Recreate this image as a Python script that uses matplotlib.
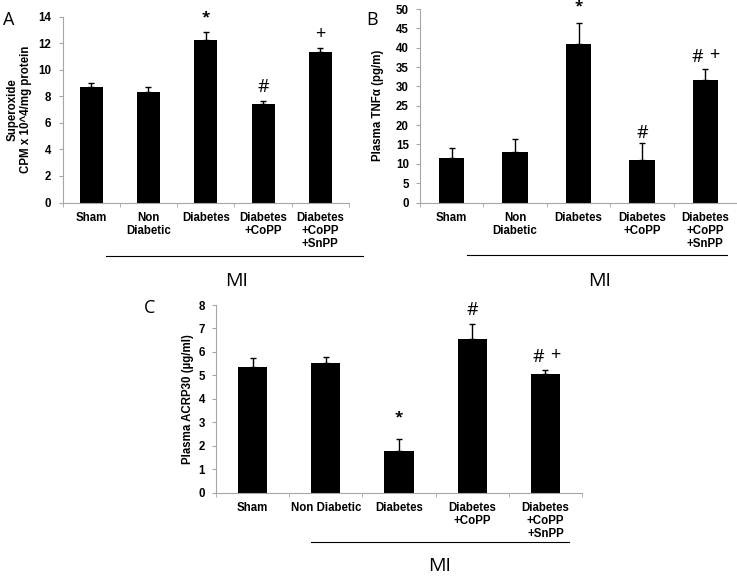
import numpy as np
import matplotlib
matplotlib.use("Agg")
import matplotlib.pyplot as plt
from matplotlib.lines import Line2D

plt.rcParams['font.family'] = ['Liberation Sans', 'DejaVu Sans']

W, H = 737, 576

groups_ab = ["Sham", "Non\nDiabetic", "Diabetes", "Diabetes\n+CoPP", "Diabetes\n+CoPP\n+SnPP"]
groups_c = ["Sham", "Non Diabetic", "Diabetes", "Diabetes\n+CoPP", "Diabetes\n+CoPP\n+SnPP"]

superoxide = [8.72, 8.29, 12.26, 7.44, 11.36]
superoxide_err = [0.25, 0.43, 0.55, 0.17, 0.25]

tnf = [11.6, 13.0, 41.0, 10.9, 31.6]
tnf_err = [2.5, 3.3, 5.5, 4.4, 2.8]

acrp30 = [5.34, 5.54, 1.78, 6.53, 5.06]
acrp30_err = [0.41, 0.23, 0.49, 0.67, 0.15]

# significance marks: (bar index, y value, text, x offset in bars)
marks_a = [(2, 13.9, "*", 0), (3, 8.7, "#", 0), (4, 12.7, "+", 0)]
marks_b = [(2, 50.6, "*", 0), (3, 17.9, "#", 0), (4, 37.6, "#", -0.12), (4, 38.2, "+", 0.14)]
marks_c = [(2, 3.2, "*", 0), (3, 7.8, "#", 0), (4, 5.8, "#", -0.1), (4, 5.85, "+", 0.14)]


def px(x, y):
    return x / W, 1 - y / H


fig = plt.figure(figsize=(W / 100, H / 100), dpi=100)
grey = "#a6a6a6"


def panel(rect, labels, vals, errs, ymax, ystep, ylabel, marks):
    ax = fig.add_axes(rect)
    x = np.arange(len(vals))
    ax.bar(x, vals, width=0.4, color="black",
           yerr=[np.zeros(len(errs)), errs], capsize=2.2,
           error_kw=dict(elinewidth=1, capthick=1, ecolor="black"))
    ax.set_xlim(-0.5, len(vals) - 0.5)
    ax.set_ylim(0, ymax)
    ax.set_yticks(np.arange(0, ymax + 0.01, ystep))
    ax.set_xticks(x)
    ax.set_xticklabels(labels, fontsize=8.3, fontweight="bold", linespacing=1.1)
    ax.set_xticks(np.arange(-0.5, len(vals)), minor=True)
    ax.tick_params(axis="x", which="major", length=0, pad=7)
    ax.tick_params(axis="x", which="minor", length=3, color=grey, direction="out")
    ax.tick_params(axis="y", length=3, color=grey, pad=5, labelsize=8.3)
    for t in ax.get_yticklabels():
        t.set_fontweight("bold")
    for s in ["top", "right"]:
        ax.spines[s].set_visible(False)
    for s in ["left", "bottom"]:
        ax.spines[s].set_color(grey)
        ax.spines[s].set_linewidth(0.8)
    ax.set_ylabel(ylabel, fontsize=8.3, fontweight="bold", linespacing=1.1)
    for i, yv, txt, dx in marks:
        fs = 11 if txt == "*" else 13
        ax.text(i + dx, yv, txt, ha="center", va="center", fontsize=fs,
                fontweight="bold" if txt == "*" else "normal",
                family=["Open Sans", "DejaVu Sans"], clip_on=False)
    return ax


axA = panel([62.5 / W, 1 - 202.5 / H, (349 - 62.5) / W, 186 / H], groups_ab,
            superoxide, superoxide_err, 14, 2,
            "Superoxide\nCPM x 10^4/mg protein", marks_a)
axA.yaxis.set_label_coords(-0.108, 0.5)

axB = panel([420 / W, 1 - 202.5 / H, 317 / W, 193.5 / H], groups_ab,
            tnf, tnf_err, 50, 5, "Plasma TNFα (pg/m)", marks_b)
axB.yaxis.set_label_coords(-0.114, 0.5)

axC = panel([216 / W, 1 - 492.7 / H, 366 / W, 187.7 / H], groups_c,
            acrp30, acrp30_err, 8, 1, "Plasma ACRP30 (µg/ml)", marks_c)
axC.yaxis.set_label_coords(-0.06, 0.5)

# MI lines and labels
for x0, x1, y, tx, ty in [(106, 363, 255.7, 237, 281),
                          (467, 727, 255, 600, 281),
                          (311, 569, 541.7, 440, 566)]:
    (a, b), (c, d) = px(x0, y), px(x1, y)
    fig.add_artist(Line2D([a, c], [b, d], color="black", lw=0.8, transform=fig.transFigure))
    fig.text(*px(tx, ty), "MI", ha="center", va="center", fontsize=14,
             family=["Open Sans", "DejaVu Sans"])

# panel letters
for letter, lx, ly in [("A", 9, 20), ("B", 372, 20), ("C", 150, 308)]:
    fig.text(*px(lx, ly), letter, ha="center", va="center", fontsize=13,
             family=["Open Sans", "DejaVu Sans"])

fig.savefig("out.png", dpi=100)
